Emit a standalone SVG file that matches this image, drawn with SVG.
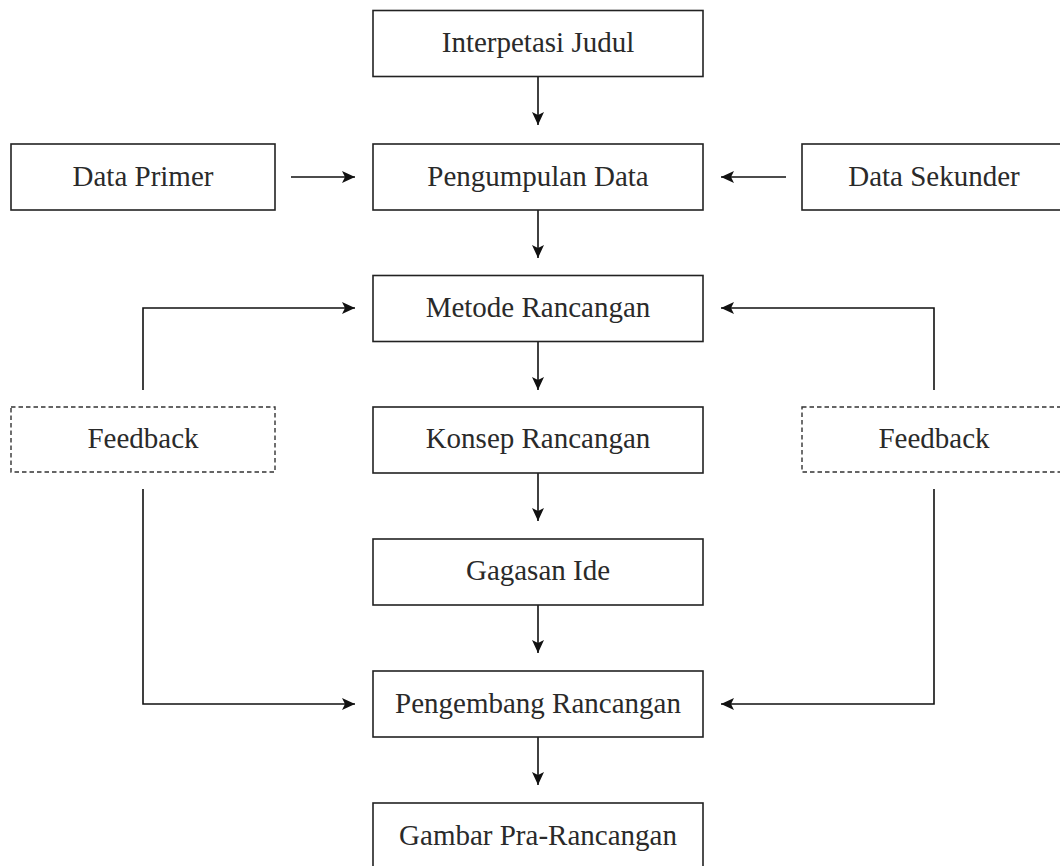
<svg xmlns="http://www.w3.org/2000/svg" width="1060" height="866" viewBox="0 0 1060 866">
<defs>
<style>
.box{fill:#fff;stroke:#222;stroke-width:1.6}
.dash{fill:#fff;stroke:#333;stroke-width:1.4;stroke-dasharray:4.5 3}
.lbl{font-family:"Liberation Serif","Times New Roman",serif;font-size:29px;fill:#2a2a2a;text-anchor:middle}
.ln{fill:none;stroke:#111;stroke-width:1.6}
</style>
<marker id="ah" markerWidth="14" markerHeight="12" viewBox="0 0 14 12" refX="13" refY="6" orient="auto" markerUnits="userSpaceOnUse">
<path d="M0,0 L13,6 L0,12 L3,6 Z" fill="#111"/>
</marker>
</defs>
<rect width="1060" height="866" fill="#fff"/>
<g id="connectors">
<line class="ln" x1="538" y1="77" x2="538" y2="125" marker-end="url(#ah)"/>
<line class="ln" x1="291" y1="177" x2="355" y2="177" marker-end="url(#ah)"/>
<line class="ln" x1="786" y1="177" x2="721" y2="177" marker-end="url(#ah)"/>
<line class="ln" x1="538" y1="210" x2="538" y2="258" marker-end="url(#ah)"/>
<line class="ln" x1="538" y1="342" x2="538" y2="390" marker-end="url(#ah)"/>
<line class="ln" x1="538" y1="473" x2="538" y2="521" marker-end="url(#ah)"/>
<line class="ln" x1="538" y1="605" x2="538" y2="653" marker-end="url(#ah)"/>
<line class="ln" x1="538" y1="737" x2="538" y2="785" marker-end="url(#ah)"/>
<polyline class="ln" points="143,390 143,308 355,308" marker-end="url(#ah)"/>
<polyline class="ln" points="934,390 934,308 721,308" marker-end="url(#ah)"/>
<polyline class="ln" points="143,489 143,704 355,704" marker-end="url(#ah)"/>
<polyline class="ln" points="934,489 934,704 721,704" marker-end="url(#ah)"/>
</g>
<g id="interpetasi"><rect class="box" x="373" y="10.5" width="330" height="66"/><text class="lbl" x="538" y="52">Interpetasi Judul</text></g>
<g id="data-primer"><rect class="box" x="11" y="144" width="264" height="66"/><text class="lbl" x="143" y="186">Data Primer</text></g>
<g id="pengumpulan"><rect class="box" x="373" y="144" width="330" height="66"/><text class="lbl" x="538" y="186">Pengumpulan Data</text></g>
<g id="data-sekunder"><rect class="box" x="802" y="144" width="270" height="66"/><text class="lbl" x="934" y="186">Data Sekunder</text></g>
<g id="metode"><rect class="box" x="373" y="275.5" width="330" height="66"/><text class="lbl" x="538" y="317">Metode Rancangan</text></g>
<g id="feedback-left"><rect class="dash" x="11" y="407" width="264" height="65"/><text class="lbl" x="143" y="448">Feedback</text></g>
<g id="konsep"><rect class="box" x="373" y="407" width="330" height="66"/><text class="lbl" x="538" y="448">Konsep Rancangan</text></g>
<g id="feedback-right"><rect class="dash" x="802" y="407" width="270" height="65"/><text class="lbl" x="934" y="448">Feedback</text></g>
<g id="gagasan"><rect class="box" x="373" y="539" width="330" height="66"/><text class="lbl" x="538" y="580">Gagasan Ide</text></g>
<g id="pengembang"><rect class="box" x="373" y="671" width="330" height="66"/><text class="lbl" x="538" y="713">Pengembang Rancangan</text></g>
<g id="gambar"><rect class="box" x="373" y="803" width="330" height="70"/><text class="lbl" x="538" y="845">Gambar Pra-Rancangan</text></g>
</svg>
